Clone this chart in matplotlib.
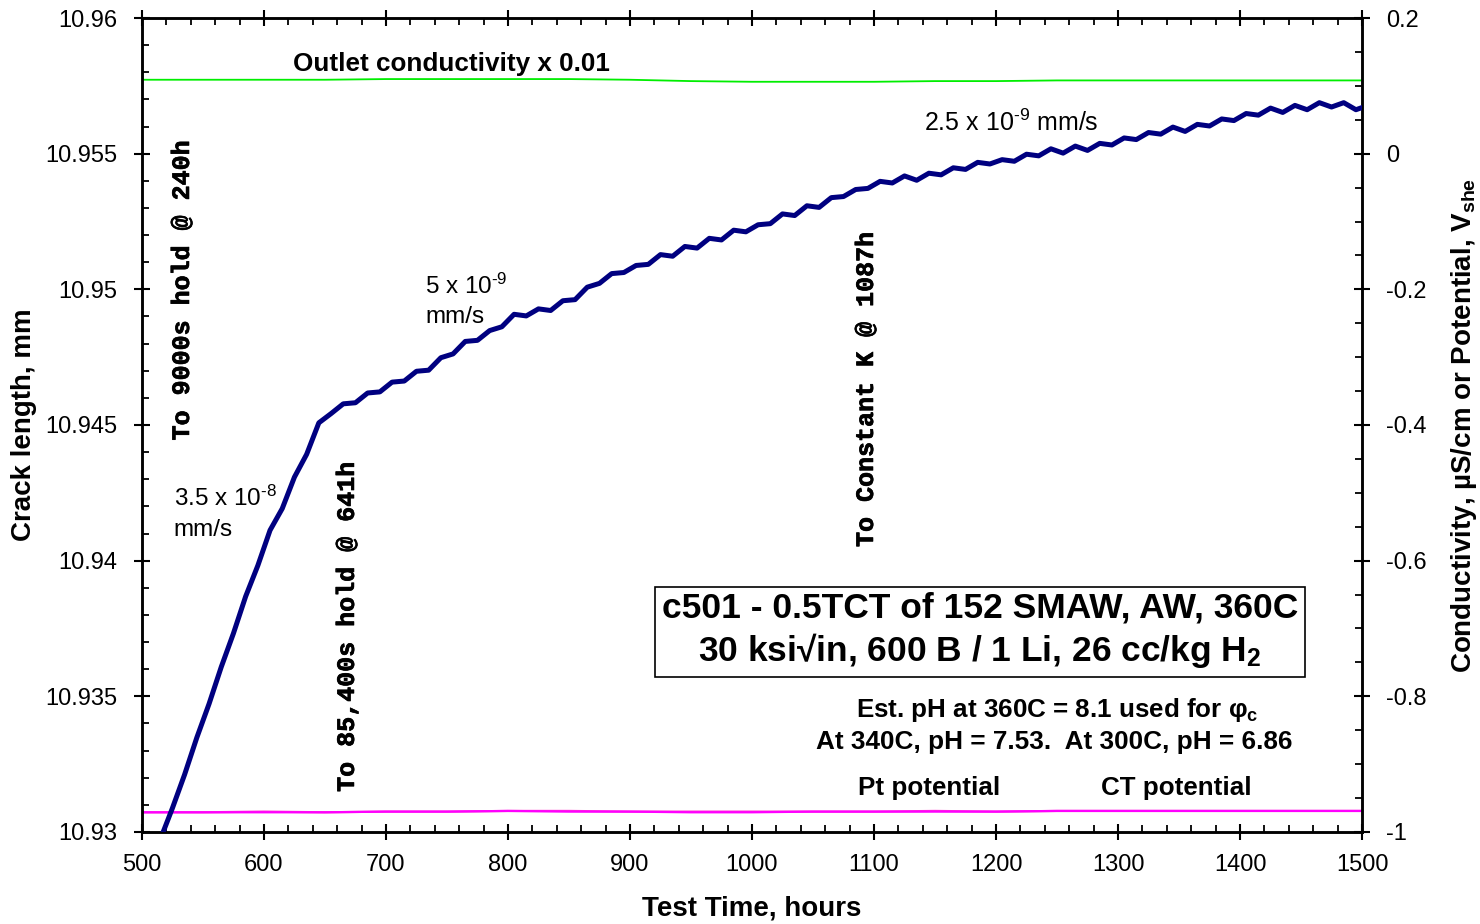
import numpy as np
import matplotlib
matplotlib.use("Agg")
import matplotlib.pyplot as plt
import matplotlib.patheffects as pe
from matplotlib.ticker import AutoMinorLocator

plt.rcParams['font.family'] = ['Liberation Sans', 'DejaVu Sans']
plt.rcParams['mathtext.fontset'] = 'custom'
plt.rcParams['mathtext.rm'] = 'Liberation Sans'
plt.rcParams['mathtext.bf'] = 'Liberation Sans:bold'
plt.rcParams['mathtext.default'] = 'rm'
plt.rcParams['axes.unicode_minus'] = False

# crack length, mm
hours = [515, 525, 535, 545, 555, 565, 575, 585, 595, 605,
         615, 625, 635, 645, 655, 665, 675, 685, 695, 705,
         715, 725, 735, 745, 755, 765, 775, 785, 795, 805,
         815, 825, 835, 845, 855, 865, 875, 885, 895, 905,
         915, 925, 935, 945, 955, 965, 975, 985, 995, 1005,
         1015, 1025, 1035, 1045, 1055, 1065, 1075, 1085, 1095, 1105,
         1115, 1125, 1135, 1145, 1155, 1165, 1175, 1185, 1195, 1205,
         1215, 1225, 1235, 1245, 1255, 1265, 1275, 1285, 1295, 1305,
         1315, 1325, 1335, 1345, 1355, 1365, 1375, 1385, 1395, 1405,
         1415, 1425, 1435, 1445, 1455, 1465, 1475, 1485, 1495, 1500]
crack = [10.92972, 10.93088, 10.93212, 10.93348, 10.93472, 10.93608, 10.93732, 10.93868, 10.93982, 10.94112,
         10.94192, 10.94308, 10.94392, 10.94508, 10.94542, 10.94578, 10.94582, 10.94618, 10.94622, 10.94658,
         10.94662, 10.94698, 10.94702, 10.94748, 10.94762, 10.94808, 10.94812, 10.94848, 10.94862, 10.94908,
         10.94902, 10.94928, 10.94922, 10.94958, 10.94962, 10.95008, 10.95022, 10.95058, 10.95062, 10.95088,
         10.95092, 10.95128, 10.95122, 10.95158, 10.95152, 10.95188, 10.95182, 10.95218, 10.95212, 10.95238,
         10.95242, 10.95278, 10.95272, 10.95308, 10.95302, 10.95338, 10.95342, 10.95368, 10.95372, 10.95398,
         10.95392, 10.95418, 10.95402, 10.95428, 10.95422, 10.95448, 10.95442, 10.95468, 10.95462, 10.95478,
         10.95472, 10.95498, 10.95492, 10.95518, 10.95502, 10.95528, 10.95512, 10.95538, 10.95532, 10.95558,
         10.95552, 10.95578, 10.95572, 10.95598, 10.95582, 10.95608, 10.95602, 10.95628, 10.95622, 10.95648,
         10.95642, 10.95668, 10.95652, 10.95678, 10.95662, 10.95688, 10.95672, 10.95688, 10.95662, 10.95670]

# outlet conductivity x 0.01 and potentials (right axis)
hours_env = [500, 550, 600, 650, 700, 750, 800, 850, 900, 950, 1000,
             1050, 1100, 1150, 1200, 1250, 1300, 1350, 1400, 1450, 1500]
cond = [0.109, 0.109, 0.109, 0.109, 0.110, 0.110, 0.110, 0.110, 0.109, 0.107, 0.106,
        0.106, 0.106, 0.107, 0.107, 0.108, 0.108, 0.108, 0.108, 0.108, 0.108]
pt_pot = [-0.971, -0.971, -0.971, -0.971, -0.970, -0.970, -0.969, -0.970, -0.970, -0.971, -0.971,
          -0.970, -0.970, -0.970, -0.970, -0.969, -0.969, -0.969, -0.969, -0.969, -0.969]
ct_pot = [-0.971, -0.971, -0.970, -0.971, -0.970, -0.970, -0.969, -0.969, -0.970, -0.970, -0.970,
          -0.970, -0.970, -0.969, -0.970, -0.969, -0.969, -0.969, -0.969, -0.969, -0.969]

yticks_left = [10.93, 10.935, 10.94, 10.945, 10.95, 10.955, 10.96]
ylabels_left = ['10.93', '10.935', '10.94', '10.945', '10.95', '10.955', '10.96']
yticks_right = [-1, -0.8, -0.6, -0.4, -0.2, 0, 0.2]
ylabels_right = ['-1', '-0.8', '-0.6', '-0.4', '-0.2', '0', '0.2']
xticks = [500, 600, 700, 800, 900, 1000, 1100, 1200, 1300, 1400, 1500]

fig = plt.figure(figsize=(14.8, 9.24), dpi=100)
ax = fig.add_axes([0.0959, 0.0996, 0.8244, 0.8809])
ax2 = ax.twinx()

ax2.plot(hours_env, cond, color='#00ee00', lw=1.3)
ax2.plot(hours_env, ct_pot, color='#ff33cc', lw=1.6)
ax2.plot(hours_env, pt_pot, color='#ff00ff', lw=1.6)
ax.plot(hours, crack, color='#000080', lw=3.6, zorder=5)
ax.set_zorder(ax2.get_zorder() + 1)
ax.patch.set_visible(False)

ax.set_xlim(500, 1500)
ax.set_ylim(10.93, 10.96)
ax2.set_ylim(-1, 0.2)
ax.set_xticks(xticks)
ax.set_yticks(yticks_left)
ax.set_yticklabels(ylabels_left)
ax2.set_yticks(yticks_right)
ax2.set_yticklabels(ylabels_right)
ax.xaxis.set_minor_locator(AutoMinorLocator(5))
ax.yaxis.set_minor_locator(AutoMinorLocator(5))
ax2.yaxis.set_minor_locator(AutoMinorLocator(4))

for a in (ax, ax2):
    for s in a.spines.values():
        s.set_linewidth(1.8)
ax.tick_params(which='major', direction='inout', length=12, width=1.5, labelsize=17,
               top=True, right=False)
ax.tick_params(which='minor', direction='in', length=5, width=1.3, top=True, right=False)
ax.tick_params(axis='y', which='major', pad=11.5)
ax.tick_params(axis='x', which='major', pad=10)
ax2.tick_params(which='major', direction='inout', length=12, width=1.5, labelsize=17, pad=11)
ax2.tick_params(which='minor', direction='in', length=5, width=1.3)

ax.set_xlabel('Test Time, hours', fontsize=20, fontweight='bold', labelpad=14)
ax.set_ylabel('Crack length, mm', fontsize=20, fontweight='bold', labelpad=6)
ax2.set_ylabel(r'Conductivity, µS/cm or Potential, V$_\mathbf{she}$', fontsize=20,
               fontweight='bold', labelpad=16)

# hold / constant K notes
mono = dict(family=['Liberation Mono', 'DejaVu Sans Mono'], fontweight='bold', fontsize=18,
            rotation=90, ha='center', va='center',
            path_effects=[pe.withStroke(linewidth=0.5, foreground='black')])
ax.text(532.8, 10.94996, 'To 9000s hold @ 240h', **mono)
ax.text(668, 10.93756, 'To 85,400s hold @ 641h', **mono)
ax.text(1093.4, 10.94631, 'To Constant K @ 1087h', **mono)

# growth rates
ax.text(526.2, 10.94200, '3.5 x 10$^{‐8}$', fontsize=17.5, va='baseline')
ax.text(526.2, 10.94090, 'mm/s', fontsize=17.5, va='baseline')
ax.text(732, 10.94985, '5 x 10$^{‐9}$', fontsize=17.5, va='baseline')
ax.text(732, 10.94875, 'mm/s', fontsize=17.5, va='baseline')
ax.text(1141, 10.95585, '2.5 x 10$^{‐9}$ mm/s', fontsize=18, va='baseline')

ax.text(623.8, 10.95804, 'Outlet conductivity x 0.01', fontsize=18.8, fontweight='bold',
        va='baseline')

ax.text(1186.9, 10.93741,
        'c501 - 0.5TCT of 152 SMAW, AW, 360C\n30 ksi√in, 600 B / 1 Li, 26 cc/kg H$_\\mathbf{2}$',
        fontsize=25.5, fontweight='bold', ha='center', va='center', linespacing=1.22,
        bbox=dict(boxstyle='square,pad=0.2', fc='white', ec='black', lw=1.2))

ax.text(1250, 10.93422, 'Est. pH at 360C = 8.1 used for φ$_\\mathbf{c}$', fontsize=18.7,
        fontweight='bold', ha='center', va='baseline')
ax.text(1248, 10.93304, 'At 340C, pH = 7.53.  At 300C, pH = 6.86', fontsize=18.8,
        fontweight='bold', ha='center', va='baseline')
ax.text(1087, 10.93137, 'Pt potential', fontsize=18.7, fontweight='bold', va='baseline')
ax.text(1286, 10.93137, 'CT potential', fontsize=18.7, fontweight='bold', va='baseline')

fig.savefig('out.png', dpi=100)
